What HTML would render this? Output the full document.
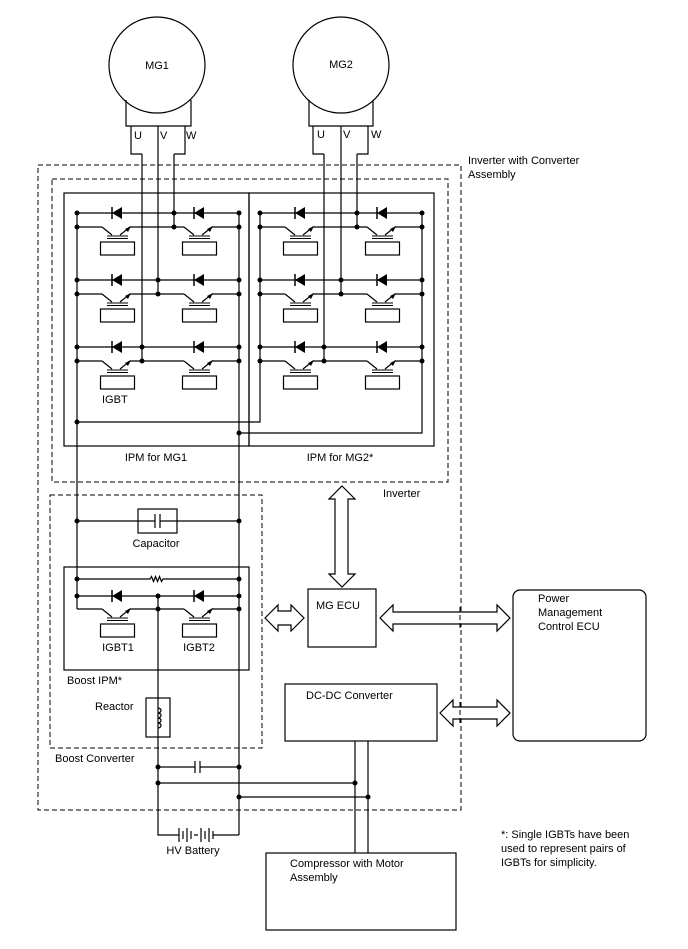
<!DOCTYPE html>
<html><head><meta charset="utf-8"><style>
html,body{margin:0;padding:0;background:#fff;}
svg{display:block;}
text{font-family:"Liberation Sans",Arial,sans-serif;font-size:11px;fill:#000;}
</style></head><body>
<svg width="688" height="949" viewBox="0 0 688 949" xmlns="http://www.w3.org/2000/svg">
<defs>
<g id="igbt">
<line x1="2" y1="0" x2="12" y2="8" stroke="#000" stroke-width="1.2"/>
<line x1="20" y1="8" x2="30" y2="0" stroke="#000" stroke-width="1.2"/>
<polygon points="31,-1 25,2 28,5" fill="#000"/>
<line x1="7" y1="9" x2="28" y2="9" stroke="#000" stroke-width="1"/>
<line x1="7" y1="11.5" x2="28" y2="11.5" stroke="#000" stroke-width="1"/>
<rect x="0.5" y="15" width="34" height="13" fill="none" stroke="#000" stroke-width="1.2"/>
</g>
<g id="diode">
<polygon points="-5,0 5,-6 5,6" fill="#000"/>
<line x1="-5" y1="-6" x2="-5" y2="6" stroke="#000" stroke-width="1.5"/>
</g>
<circle id="dot" r="2.5" fill="#000"/>
<g id="ipm">
<g id="row">
<line x1="77" y1="213" x2="239" y2="213" stroke="#000" stroke-width="1.2"/>
<use href="#diode" x="117" y="213"/><use href="#diode" x="199" y="213"/>
<line x1="77" y1="227" x2="102" y2="227" stroke="#000" stroke-width="1.2"/>
<line x1="130" y1="227" x2="184" y2="227" stroke="#000" stroke-width="1.2"/>
<line x1="212" y1="227" x2="239" y2="227" stroke="#000" stroke-width="1.2"/>
<use href="#igbt" x="100" y="227"/><use href="#igbt" x="182" y="227"/>
<use href="#dot" x="77" y="213"/><use href="#dot" x="239" y="213"/>
<use href="#dot" x="77" y="227"/><use href="#dot" x="239" y="227"/>
</g>
<use href="#row" y="67"/><use href="#row" y="134"/>
</g>
</defs>

<g fill="none" stroke="#000" stroke-width="1.2">
<circle cx="157" cy="65" r="48"/>
<path d="M126,100 V126 H191 V100"/>
<path d="M131,126 V154 H142 M185,126 V154 H174"/>
<circle cx="341" cy="65" r="48"/>
<path d="M309,100 V126 H373 V100"/>
<path d="M313,126 V154 H324 M368,126 V154 H357"/>
<g stroke-dasharray="5,3" stroke-width="1">
<rect x="38" y="165" width="423" height="645"/>
<rect x="52" y="179" width="396" height="303"/>
<rect x="50" y="495" width="212" height="253"/>
</g>
<rect x="64" y="193" width="185" height="253"/>
<rect x="249" y="193" width="185" height="253"/>
<path d="M142,154 V361 M158,126 V294 M174,154 V227"/>
<path d="M324,154 V361 M341,126 V294 M357,154 V227"/>
<path d="M77,213 V609 M239,213 V835 M260,213 V422 H77 M422,213 V433 H239"/>
<rect x="138" y="509" width="39" height="24"/>
<path d="M77,521 H155 M160,521 H239 M155,514 V528 M160,514 V528"/>
<rect x="64" y="567" width="185" height="103"/>
<path d="M77,579 H150 l1.5,-2.5 l2,5 l2,-5 l2,5 l2,-5 l2,5 l1.5,-2.5 H239"/>
<path d="M77,596 H239"/>
<path d="M77,609 H102 M130,609 H184 M212,609 H239"/>
<path d="M158,596 V835 H179 M218,835 H239"/>
<rect x="146" y="698" width="24" height="39"/>
<path d="M158,708 a3,2.5 0 0 1 0,5 a3,2.5 0 0 1 0,5 a3,2.5 0 0 1 0,5 a3,2.5 0 0 1 0,5" />
<path d="M158,767 H195 M200,767 H239 M195,761 V773 M200,761 V773"/>
<path d="M158,783 H355 M239,797 H368 M355,741 V853 M368,741 V853"/>
<path d="M179,828 V842 M183,831 V839 M187,828 V842 M191,831 V839 M194,835 H198 M201,828 V842 M205,831 V839 M209,828 V842 M213,831 V839 M213,835 H218"/>
<rect x="308" y="589" width="68" height="58"/>
<rect x="285" y="684" width="152" height="57"/>
<rect x="513" y="590" width="133" height="151" rx="7"/>
<rect x="266" y="853" width="190" height="77"/>
<polygon points="342,486 355,499 348,499 348,574 355,574 342,587 329,574 335,574 335,499 329,499" fill="#fff"/>
<polygon points="265,618 278,605 278,611 291,611 291,605 304,618 291,631 291,625 278,625 278,631" fill="#fff"/>
<polygon points="380,618 393,605 393,612 497,612 497,605 510,618 497,631 497,624 393,624 393,631" fill="#fff"/>
<polygon points="440,713 453,700 453,707 497,707 497,700 510,713 497,726 497,719 453,719 453,726" fill="#fff"/>
</g>
<line x1="460" y1="607" x2="460" y2="629" stroke="#000" stroke-width="1" stroke-dasharray="5,3"/>
<line x1="460" y1="702" x2="460" y2="724" stroke="#000" stroke-width="1" stroke-dasharray="5,3"/>

<use href="#ipm"/>
<use href="#ipm" x="183"/>
<use href="#diode" x="117" y="596"/><use href="#diode" x="199" y="596"/>
<use href="#igbt" x="100" y="609"/><use href="#igbt" x="182" y="609"/>

<g fill="#000">
<circle cx="174" cy="213" r="2.5"/><circle cx="174" cy="227" r="2.5"/>
<circle cx="158" cy="280" r="2.5"/><circle cx="158" cy="294" r="2.5"/>
<circle cx="142" cy="347" r="2.5"/><circle cx="142" cy="361" r="2.5"/>
<circle cx="357" cy="213" r="2.5"/><circle cx="357" cy="227" r="2.5"/>
<circle cx="341" cy="280" r="2.5"/><circle cx="341" cy="294" r="2.5"/>
<circle cx="324" cy="347" r="2.5"/><circle cx="324" cy="361" r="2.5"/>
<circle cx="77" cy="422" r="2.5"/><circle cx="239" cy="433" r="2.5"/>
<circle cx="77" cy="521" r="2.5"/><circle cx="239" cy="521" r="2.5"/>
<circle cx="77" cy="579" r="2.5"/><circle cx="239" cy="579" r="2.5"/>
<circle cx="77" cy="596" r="2.5"/><circle cx="239" cy="596" r="2.5"/>
<circle cx="158" cy="596" r="2.5"/><circle cx="158" cy="609" r="2.5"/><circle cx="239" cy="609" r="2.5"/>
<circle cx="158" cy="767" r="2.5"/><circle cx="239" cy="767" r="2.5"/>
<circle cx="158" cy="783" r="2.5"/><circle cx="355" cy="783" r="2.5"/>
<circle cx="239" cy="797" r="2.5"/><circle cx="368" cy="797" r="2.5"/>
</g>

<text x="157" y="69" text-anchor="middle">MG1</text>
<text x="341" y="68" text-anchor="middle">MG2</text>
<text x="134" y="139">U</text><text x="160" y="139">V</text><text x="186" y="139">W</text>
<text x="317" y="138">U</text><text x="343" y="138">V</text><text x="371" y="138">W</text>
<text x="468" y="164">Inverter with Converter</text>
<text x="468" y="178">Assembly</text>
<text x="102" y="403">IGBT</text>
<text x="156" y="461" text-anchor="middle">IPM for MG1</text>
<text x="340" y="461" text-anchor="middle">IPM for MG2*</text>
<text x="383" y="497">Inverter</text>
<text x="156" y="547" text-anchor="middle">Capacitor</text>
<text x="118" y="651" text-anchor="middle">IGBT1</text>
<text x="199" y="651" text-anchor="middle">IGBT2</text>
<text x="67" y="684">Boost IPM*</text>
<text x="95" y="710">Reactor</text>
<text x="55" y="762">Boost Converter</text>
<text x="193" y="854" text-anchor="middle">HV Battery</text>
<text x="316" y="609">MG ECU</text>
<text x="306" y="699">DC-DC Converter</text>
<text x="538" y="602">Power</text>
<text x="538" y="616">Management</text>
<text x="538" y="630">Control ECU</text>
<text x="290" y="867">Compressor with Motor</text>
<text x="290" y="881">Assembly</text>
<text x="501" y="838">*: Single IGBTs have been</text>
<text x="501" y="852">used to represent pairs of</text>
<text x="501" y="866">IGBTs for simplicity.</text>
</svg>
</body></html>
